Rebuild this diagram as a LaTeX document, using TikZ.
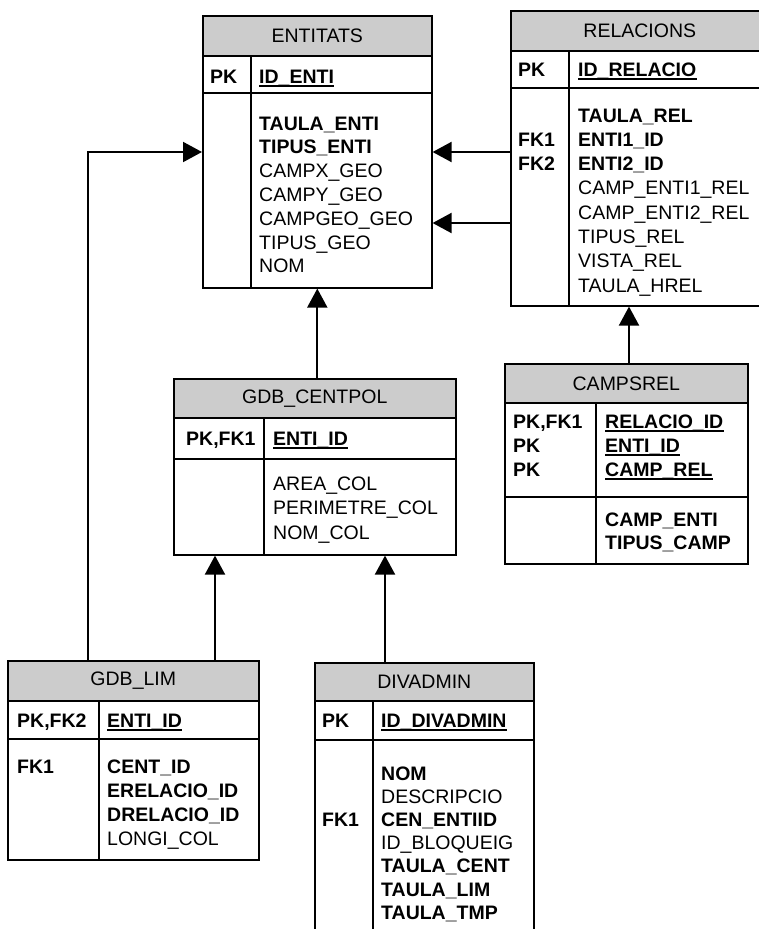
\documentclass[tikz,border=0pt]{standalone}
\usepackage{fontspec}
\setmainfont{Liberation Sans}
\usetikzlibrary{arrows.meta}
\definecolor{hdrgray}{RGB}{204,204,204}
\newcommand\tfont{\fontsize{19.5}{24}\selectfont}
\tikzset{
 tbl/.style={draw=black, line width=1.6pt, inner sep=0pt, anchor=north west},
 hdr/.style={draw=black, line width=1.6pt, fill=hdrgray, inner sep=0pt, anchor=north west, font=\tfont},
 fld/.style={anchor=base west, inner sep=0pt, font=\tfont},
 bfld/.style={anchor=base west, inner sep=0pt, font=\tfont\bfseries},
 sepline/.style={line width=1.6pt},
 conn/.style={line width=2pt, -{Triangle[length=19pt,width=20pt]}},
}
\newcommand\ulf[4]{\node[bfld] (#1) at (#2,#3) {#4};
  \draw[line width=1.8pt] ([yshift=-2.6pt]#1.base west) -- ([yshift=-2.6pt]#1.base east);}
\begin{document}
\begin{tikzpicture}[x=1pt,y=-1pt]
\clip (0,0) rectangle (759,929);
\fill[white] (0,0) rectangle (759,929);

% ---------- ENTITATS ----------
\node[hdr, minimum width=229pt, minimum height=40pt] (ent-h) at (202,15) {ENTITATS};
\node[tbl, minimum width=229pt, minimum height=272pt] (ent) at (202,15) {};
\draw[sepline] (202,93) -- (431,93);
\draw[sepline] (251,55) -- (251,287);
\node[bfld] (ent-pk) at (210,83) {PK};
\ulf{ent-id}{259}{83}{ID\_ENTI}
\node[bfld] (ent-f1) at (259,130) {TAULA\_ENTI};
\node[bfld] (ent-f2) at (259,153.8) {TIPUS\_ENTI};
\node[fld] (ent-f3) at (259,177.6) {CAMPX\_GEO};
\node[fld] (ent-f4) at (259,201.4) {CAMPY\_GEO};
\node[fld] (ent-f5) at (259,225.2) {CAMPGEO\_GEO};
\node[fld] (ent-f6) at (259,249) {TIPUS\_GEO};
\node[fld] (ent-f7) at (259,272.8) {NOM};

% ---------- RELACIONS ----------
\node[hdr, minimum width=258pt, minimum height=40pt] (rel-h) at (510,10) {RELACIONS};
\node[tbl, minimum width=258pt, minimum height=295pt] (rel) at (510,10) {};
\draw[sepline] (510,88) -- (768,88);
\draw[sepline] (569,50) -- (569,305);
\node[bfld] (rel-pk) at (518,76) {PK};
\ulf{rel-id}{578}{76}{ID\_RELACIO}
\node[bfld] (rel-k1) at (518,146.3) {FK1};
\node[bfld] (rel-k2) at (518,170.6) {FK2};
\node[bfld] (rel-f1) at (578,122) {TAULA\_REL};
\node[bfld] (rel-f2) at (578,146.3) {ENTI1\_ID};
\node[bfld] (rel-f3) at (578,170.6) {ENTI2\_ID};
\node[fld] (rel-f4) at (578,194.9) {CAMP\_ENTI1\_REL};
\node[fld] (rel-f5) at (578,219.2) {CAMP\_ENTI2\_REL};
\node[fld] (rel-f6) at (578,243.5) {TIPUS\_REL};
\node[fld] (rel-f7) at (578,267.8) {VISTA\_REL};
\node[fld] (rel-f8) at (578,292.1) {TAULA\_HREL};

% ---------- GDB_CENTPOL ----------
\node[hdr, minimum width=282pt, minimum height=39pt] (cent-h) at (173,378) {GDB\_CENTPOL};
\node[tbl, minimum width=282pt, minimum height=176pt] (cent) at (173,378) {};
\draw[sepline] (173,459) -- (455,459);
\draw[sepline] (264,417) -- (264,554);
\node[bfld] (cent-pk) at (186,445) {PK,FK1};
\ulf{cent-id}{273}{445}{ENTI\_ID}
\node[fld] (cent-f1) at (273,490) {AREA\_COL};
\node[fld] (cent-f2) at (273,514.5) {PERIMETRE\_COL};
\node[fld] (cent-f3) at (273,539) {NOM\_COL};

% ---------- CAMPSREL ----------
\node[hdr, minimum width=243pt, minimum height=39pt] (camps-h) at (504,363) {CAMPSREL};
\node[tbl, minimum width=243pt, minimum height=200pt] (camps) at (504,363) {};
\draw[sepline] (504,497) -- (747,497);
\draw[sepline] (596,402) -- (596,563);
\node[bfld] (camps-k1) at (513,428) {PK,FK1};
\node[bfld] (camps-k2) at (513,452) {PK};
\node[bfld] (camps-k3) at (513,476) {PK};
\ulf{camps-id1}{605}{428}{RELACIO\_ID}
\ulf{camps-id2}{605}{452}{ENTI\_ID}
\ulf{camps-id3}{605}{476}{CAMP\_REL}
\node[bfld] (camps-f1) at (605,526) {CAMP\_ENTI};
\node[bfld] (camps-f2) at (605,549.5) {TIPUS\_CAMP};

% ---------- GDB_LIM ----------
\node[hdr, minimum width=251pt, minimum height=40pt] (lim-h) at (7,660) {GDB\_LIM};
\node[tbl, minimum width=251pt, minimum height=199pt] (lim) at (7,660) {};
\draw[sepline] (7,739) -- (258,739);
\draw[sepline] (99,700) -- (99,859);
\node[bfld] (lim-pk) at (17,727) {PK,FK2};
\ulf{lim-id}{107}{727}{ENTI\_ID}
\node[bfld] (lim-k1) at (17,773) {FK1};
\node[bfld] (lim-f1) at (107,773) {CENT\_ID};
\node[bfld] (lim-f2) at (107,797) {ERELACIO\_ID};
\node[bfld] (lim-f3) at (107,821) {DRELACIO\_ID};
\node[fld] (lim-f4) at (107,845) {LONGI\_COL};

% ---------- DIVADMIN ----------
\node[hdr, minimum width=219pt, minimum height=38pt] (div-h) at (314,662) {DIVADMIN};
\node[tbl, minimum width=219pt, minimum height=290pt] (div) at (314,662) {};
\draw[sepline] (314,740) -- (533,740);
\draw[sepline] (373,700) -- (373,952);
\node[bfld] (div-pk) at (322,727) {PK};
\ulf{div-id}{381}{727}{ID\_DIVADMIN}
\node[bfld] (div-k1) at (322,826.4) {FK1};
\node[bfld] (div-f1) at (381,780) {NOM};
\node[fld] (div-f2) at (381,803.2) {DESCRIPCIO};
\node[bfld] (div-f3) at (381,826.4) {CEN\_ENTIID};
\node[fld] (div-f4) at (381,849.6) {ID\_BLOQUEIG};
\node[bfld] (div-f5) at (381,872.8) {TAULA\_CENT};
\node[bfld] (div-f6) at (381,896) {TAULA\_LIM};
\node[bfld] (div-f7) at (381,919.2) {TAULA\_TMP};

% ---------- connectors ----------
\draw[conn] (lim.north -| 88,0) |- (ent.west |- 0,152);
\draw[conn] (lim.north -| 215,0) -- (cent.south -| 215,0);
\draw[conn] (div.north -| 385,0) -- (cent.south -| 385,0);
\draw[conn] (cent.north -| ent.south) -- (ent.south);
\draw[conn] (rel.west |- 0,152) -- (ent.east |- 0,152);
\draw[conn] (rel.west |- 0,223) -- (ent.east |- 0,223);
\draw[conn] (camps.north -| 629,0) -- (rel.south -| 629,0);
\end{tikzpicture}
\end{document}
